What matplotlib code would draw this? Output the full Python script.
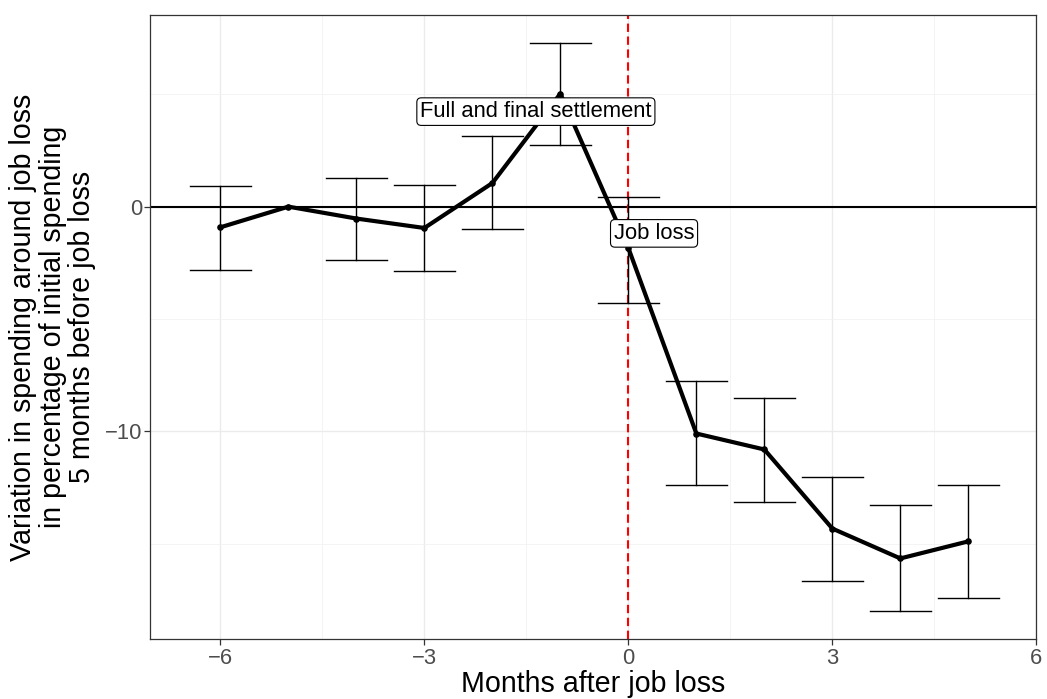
import matplotlib
matplotlib.use("Agg")
import matplotlib.pyplot as plt
from matplotlib.ticker import MultipleLocator

plt.rcParams['font.family'] = ['Liberation Sans', 'DejaVu Sans']

# months relative to job loss, estimate and confidence band (% of initial spending)
months = [-6, -5, -4, -3, -2, -1, 0, 1, 2, 3, 4, 5]
estimate = [-0.92, 0.0, -0.53, -0.95, 1.05, 5.03, -1.84, -10.1, -10.81, -14.33, -15.66, -14.9]
ci_low = [-2.8, None, -2.39, -2.88, -0.99, 2.76, -4.3, -12.4, -13.16, -16.65, -18.0, -17.41]
ci_high = [0.93, None, 1.28, 0.95, 3.13, 7.27, 0.43, -7.78, -8.5, -12.03, -13.29, -12.4]

event_labels = ["Full and final settlement", "Job loss"]
event_label_x = [-1.36, 0.378]
event_label_y = [4.23, -1.19]

fig = plt.figure(figsize=(10.47, 6.99), dpi=100)
ax = fig.add_axes([0.1436, 0.0854, 0.9898 - 0.1436, 0.9785 - 0.0854])

ax.set_xlim(-7.03, 6.0)
ax.set_ylim(-19.26, 8.53)
ax.xaxis.set_minor_locator(MultipleLocator(1.5))
ax.yaxis.set_minor_locator(MultipleLocator(5))
ax.grid(which='major', color='#ebebeb', lw=1.0, zorder=0)
ax.grid(which='minor', color='#f2f2f2', lw=0.6, zorder=0)
ax.set_axisbelow(True)
for s in ax.spines.values():
    s.set_color('#333333')
    s.set_linewidth(0.9)
ax.tick_params(which='major', length=4, color='#333333', width=0.9, pad=2,
               labelsize=15.8, labelcolor='#4d4d4d')
ax.tick_params(which='minor', length=0)
ax.set_xticks([-6, -3, 0, 3, 6])
ax.set_xticklabels(['\u22126', '\u22123', '0', '3', '6'])
ax.set_yticks([-10, 0])
ax.set_yticklabels(['\u221210', '0'])

ax.axhline(0, color='black', lw=1.5, zorder=2)
ax.axvline(0, color='#ff0000', lw=1.5, ls=(0, (4, 2.2)), zorder=2)

for m, lo, hi in zip(months, ci_low, ci_high):
    if lo is None:
        continue
    ax.plot([m, m], [lo, hi], color='black', lw=1.0, zorder=3)
    ax.plot([m - 0.45, m + 0.45], [lo, lo], color='black', lw=1.0, zorder=3)
    ax.plot([m - 0.45, m + 0.45], [hi, hi], color='black', lw=1.0, zorder=3)

ax.plot(months, estimate, color='black', lw=3, zorder=4)
ax.scatter(months, estimate, color='black', s=14, zorder=5)

for t, lx, ly in zip(event_labels, event_label_x, event_label_y):
    ax.text(lx, ly, t, ha='center', va='center', fontsize=15.8, zorder=6,
            bbox=dict(boxstyle='round,pad=0.15,rounding_size=0.2', fc='white',
                      ec='black', lw=0.8))

ax.set_xlabel('Months after job loss', fontsize=20.6, labelpad=1)
ax.set_ylabel('Variation in spending around job loss\nin percentage of initial spending\n5 months before job loss',
              fontsize=20.6, linespacing=1.07, labelpad=6)

fig.savefig('out.png', dpi=100)
